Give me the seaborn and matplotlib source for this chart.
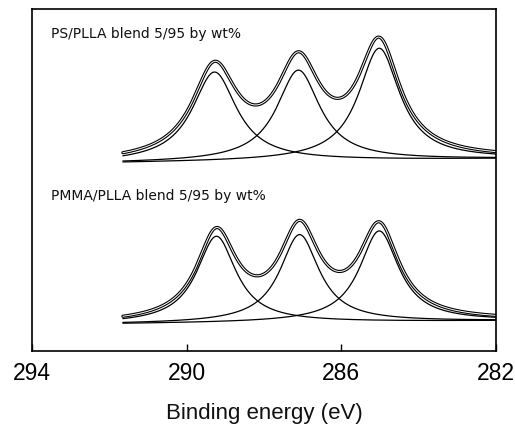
import numpy as np
import seaborn as sns
import matplotlib.pyplot as plt

# C 1s peak fits (binding energy in eV, heights in arbitrary units)
ps_label = 'PS/PLLA blend 5/95 by wt%'
ps_centers = [289.28, 287.11, 285.02]
ps_heights = [90, 91, 112]
ps_widths = [0.70, 0.68, 0.65]
ps_background = [188, 192]      # at low-energy end of scan (291.65 eV) and at 282 eV

pmma_label = 'PMMA/PLLA blend 5/95 by wt%'
pmma_centers = [289.23, 287.08, 285.02]
pmma_heights = [87, 88, 91]
pmma_widths = [0.62, 0.62, 0.62]
pmma_background = [27, 30]

scan_range = [291.65, 282.0]
x_ticks = [294, 290, 286, 282]

#%%
sns.set_theme(style='white')
plt.rcParams['font.family'] = ['Liberation Sans', 'DejaVu Sans']

fig = plt.figure(figsize=(5.15, 4.27), dpi=100)
ax = fig.add_axes([32 / 515, 1 - 352 / 427, 464 / 515, 342 / 427])

energy = np.linspace(scan_range[0], scan_range[1], 600)


def lorentz(e, c, h, w):
    return h / (1 + ((e - c) / w) ** 2)


for centers, heights, widths, bg in [
    (ps_centers, ps_heights, ps_widths, ps_background),
    (pmma_centers, pmma_heights, pmma_widths, pmma_background),
]:
    base = np.interp(energy, scan_range[::-1], bg[::-1])
    total = base.copy()
    for c, h, w in zip(centers, heights, widths):
        comp = lorentz(energy, c, h, w)
        total += comp
        sns.lineplot(x=energy, y=base + comp, ax=ax, color='black', lw=0.9)
    # envelope drawn as a hollow double line
    sns.lineplot(x=energy, y=total, ax=ax, color='black', lw=2.3)
    sns.lineplot(x=energy, y=total, ax=ax, color='white', lw=0.7)

ax.text(0.041, 0.93, ps_label, transform=ax.transAxes, fontsize=10,
        va='center', ha='left', family='DejaVu Sans', color='#111111')
ax.text(0.041, 0.456, pmma_label, transform=ax.transAxes, fontsize=10,
        va='center', ha='left', family='DejaVu Sans', color='#111111')

ax.set_xlim(294, 282)
ax.set_ylim(0, 342)
ax.set_xticks(x_ticks)
ax.set_xticklabels([str(t) for t in x_ticks])
ax.set_yticks([])
ax.tick_params(axis='x', direction='in', length=5, width=1, pad=7,
               labelsize=16.5, bottom=True, colors='black')
ax.set_xlabel('Binding energy (eV)', fontsize=16, labelpad=13, color='#111111')
ax.set_ylabel('')
for s in ax.spines.values():
    s.set_color('black')
    s.set_linewidth(1.2)

fig.savefig('out.png', dpi=100)
